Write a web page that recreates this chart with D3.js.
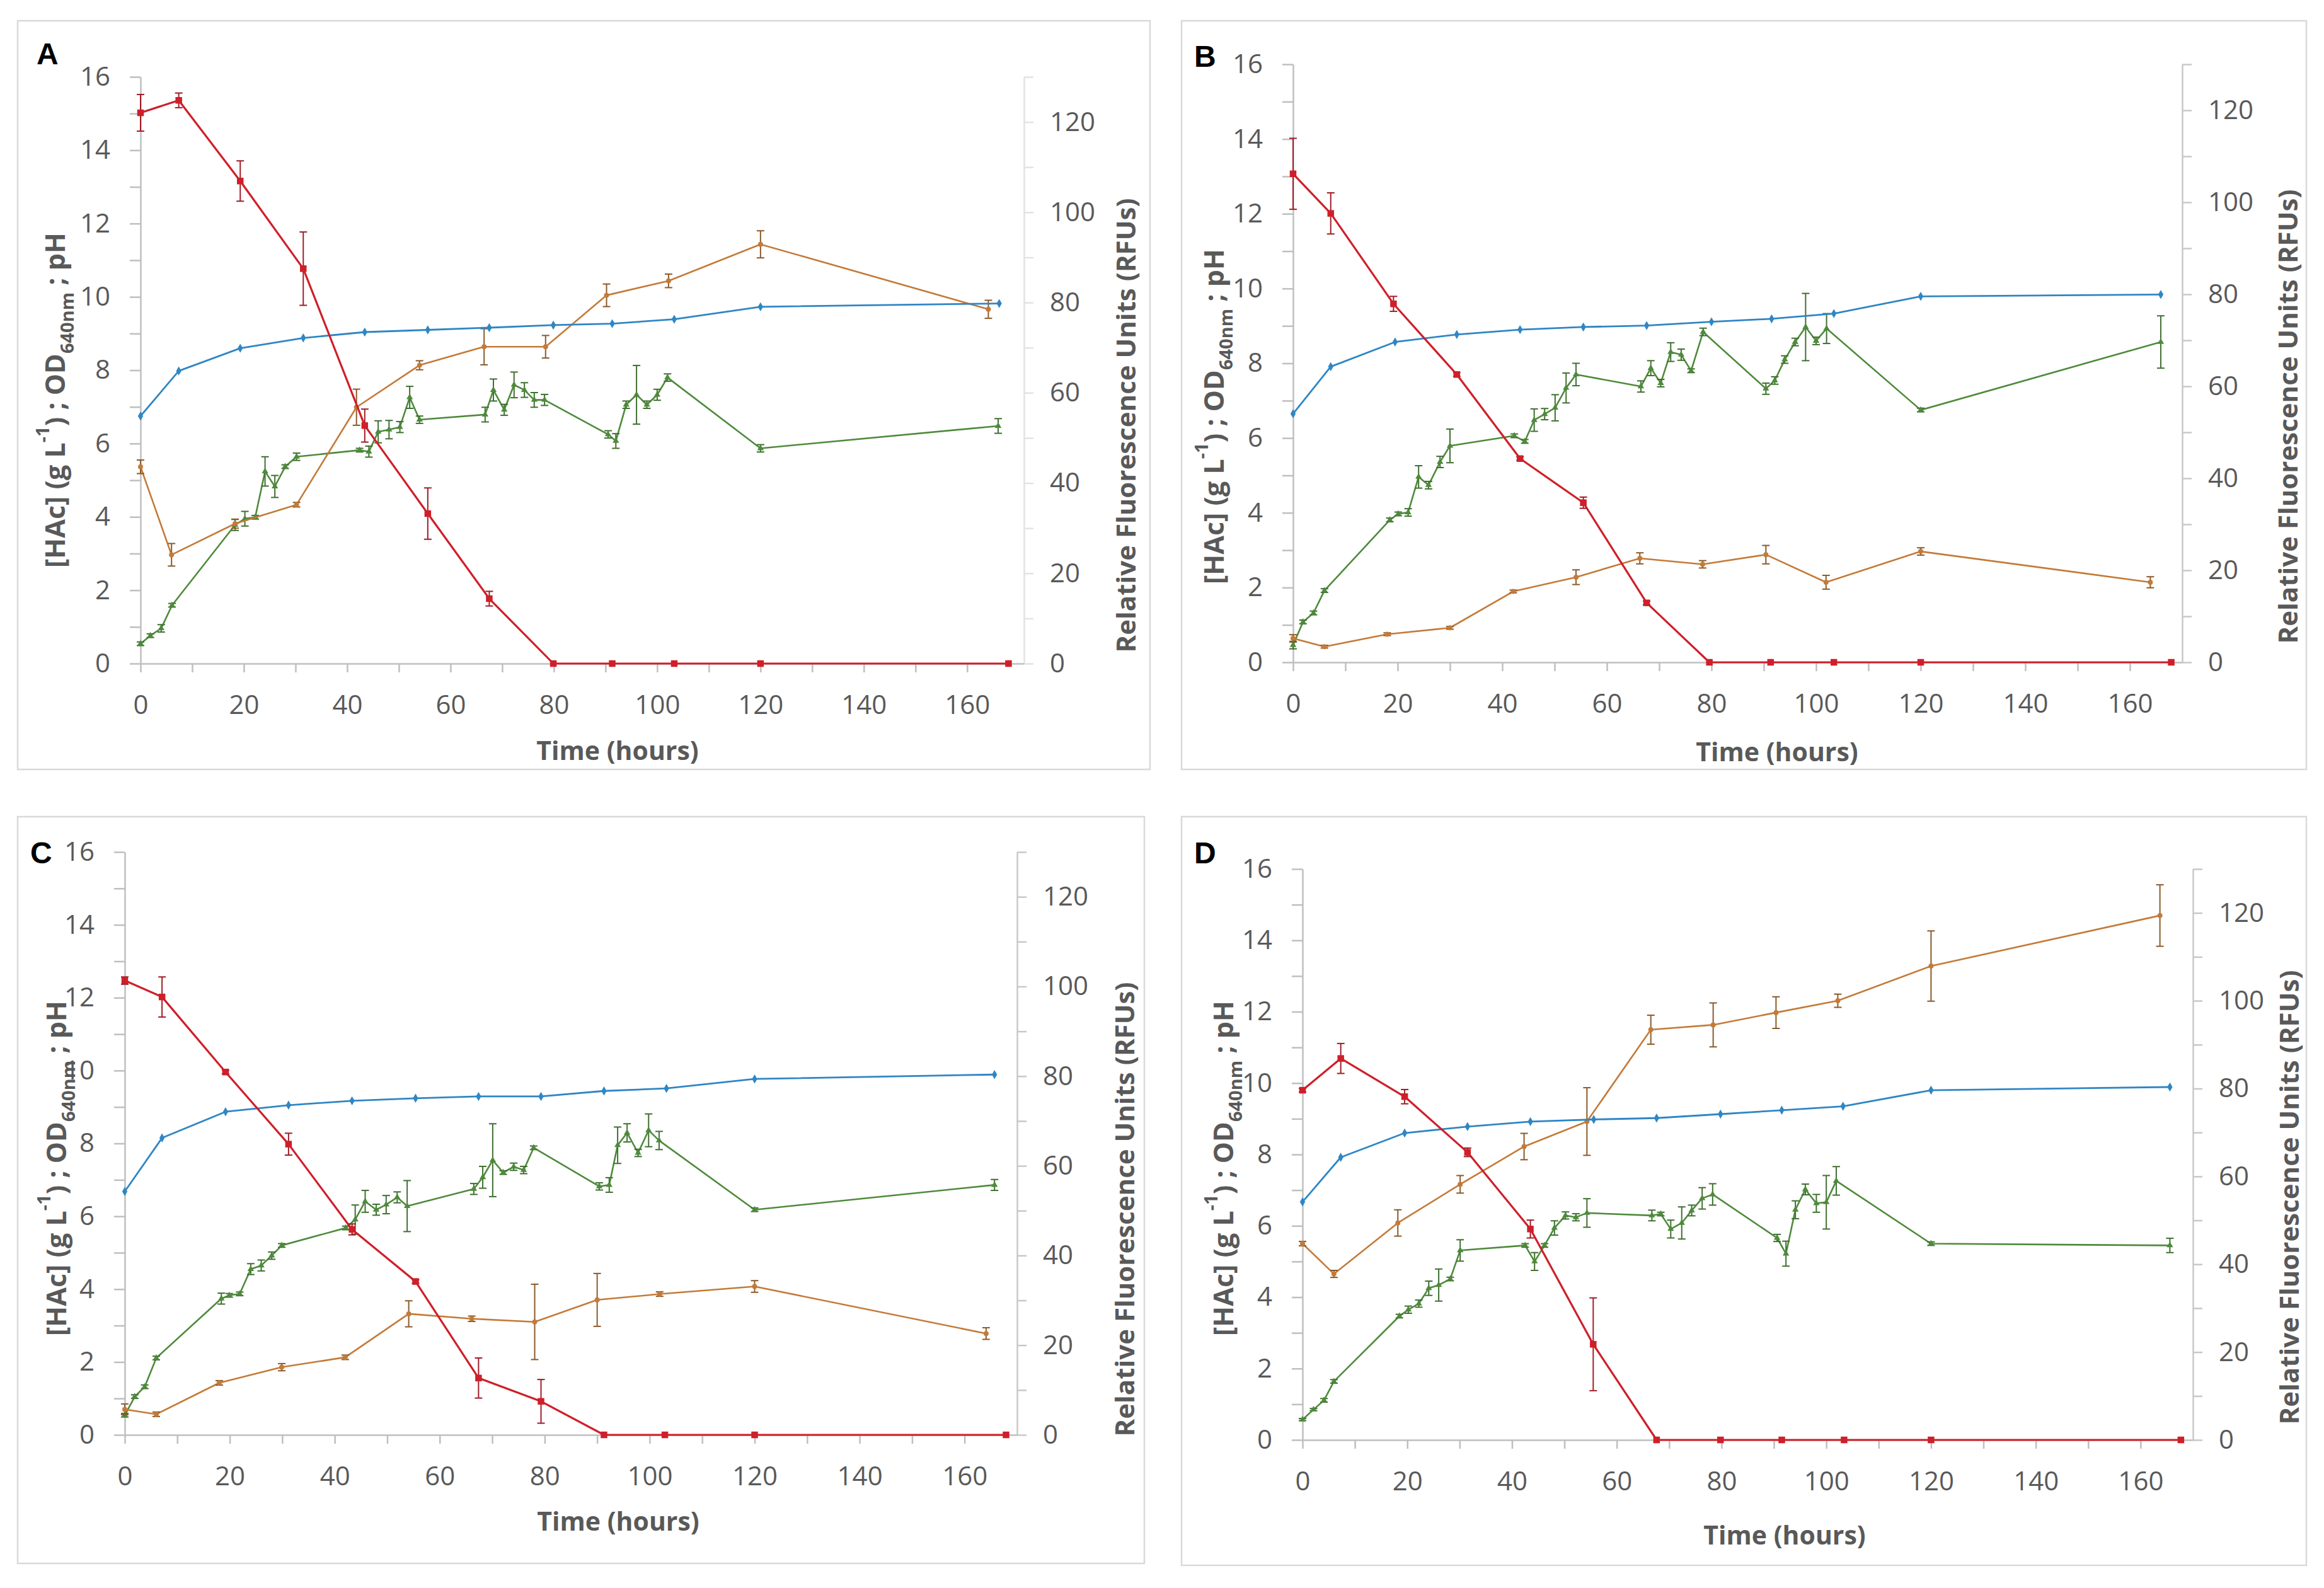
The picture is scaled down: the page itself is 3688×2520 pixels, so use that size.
<!DOCTYPE html>
<html><head><meta charset="utf-8">
<script src="https://cdn.jsdelivr.net/npm/d3@7"></script>
<style>body{margin:0;background:#fff} svg{display:block}</style>
</head><body>
<script>
// ---------------- DATA ----------------
// Panel A
const A_hac_t = [0,7.4,19.3,31.5,43.4,55.6,67.5,79.9,91.3,103.3,120,168];
const A_hac   = [15.02,15.36,13.16,10.77,6.49,4.09,1.77,0,0,0,0,0];
const A_hac_e = [0.5,0.2,0.55,1.0,0.45,0.7,0.2,0,0,0,0,0];
const A_ph_t  = [0,7.4,19.3,31.5,43.4,55.6,67.5,79.9,91.3,103.3,120,166.2];
const A_ph    = [6.75,7.98,8.60,8.88,9.04,9.10,9.16,9.23,9.27,9.39,9.73,9.82];
const A_rfu_t = [0,6.0,18.3,30.2,41.8,54.0,66.5,78.4,90.2,102.2,120,164.1];
const A_rfu   = [43.6,24.1,31.0,35.2,56.8,66.1,70.2,70.2,81.6,84.8,92.9,78.5];
const A_rfu_e = [1.5,2.5,1.0,0.5,4,1.0,4,2.5,2.5,1.5,3,2];
const A_od_t  = [0,1.9,4.0,6.1,18.3,20.2,22.2,24.1,26.0,28.0,30.2,42.4,44.2,46.0,48.1,50.2,52.1,54.0,66.7,68.3,70.4,72.3,74.3,76.2,78.2,90.5,92.0,94.0,96.0,98.0,100,102,120,166];
const A_od    = [0.54,0.76,0.96,1.59,3.78,3.95,3.99,5.24,4.83,5.37,5.64,5.82,5.78,6.32,6.38,6.45,7.26,6.65,6.79,7.46,6.92,7.60,7.46,7.19,7.19,6.25,6.07,7.06,7.33,7.06,7.33,7.80,5.87,6.48];
const A_od_e  = [0.05,0.05,0.1,0.05,0.15,0.2,0.05,0.4,0.3,0.05,0.1,0.05,0.15,0.3,0.25,0.15,0.3,0.1,0.2,0.3,0.15,0.35,0.2,0.2,0.15,0.1,0.2,0.1,0.8,0.1,0.15,0.1,0.1,0.2];
// Panel B
const B_hac_t = [0,7.2,19.2,31.3,43.4,55.5,67.6,79.6,91.3,103.4,120,167.9];
const B_hac   = [13.07,12.01,9.59,7.70,5.45,4.27,1.59,0,0,0,0,0];
const B_hac_e = [0.95,0.55,0.2,0.05,0.05,0.15,0.05,0,0,0,0,0];
const B_ph_t  = [0,7.2,19.5,31.3,43.4,55.5,67.6,80,91.5,103.4,120,165.9];
const B_ph    = [6.65,7.91,8.57,8.77,8.90,8.97,9.01,9.11,9.19,9.33,9.79,9.84];
const B_rfu_t = [0,6.0,18.0,30.0,42.1,54.1,66.3,78.3,90.4,101.9,120,163.9];
const B_rfu   = [5.2,3.4,6.1,7.5,15.4,18.5,22.6,21.3,23.4,17.4,24.1,17.4];
const B_rfu_e = [0.8,0.3,0.3,0.3,0.3,1.6,1.2,0.8,2.0,1.5,0.8,1.2];
const B_od_t  = [0,1.9,3.9,6.0,18.5,20.1,22.0,24.0,25.9,28.1,30.0,42.3,44.3,46.1,48.1,50.1,52.2,54.1,66.5,68.4,70.3,72.2,74.2,76.1,78.4,90.4,92.1,94.0,96.0,98.0,100,102,120,165.9];
const B_od    = [0.46,1.08,1.32,1.92,3.81,3.97,4.01,4.96,4.74,5.36,5.79,6.06,5.91,6.48,6.64,6.81,7.34,7.70,7.38,7.87,7.47,8.30,8.23,7.80,8.84,7.32,7.54,8.10,8.57,8.97,8.60,8.93,6.75,8.57];
const B_od_e  = [0.1,0.05,0.05,0.05,0.05,0.05,0.1,0.3,0.1,0.15,0.45,0.05,0.05,0.3,0.15,0.35,0.4,0.3,0.15,0.2,0.1,0.25,0.15,0.05,0.1,0.15,0.1,0.1,0.1,0.9,0.1,0.4,0.05,0.7];
// Panel C
const C_hac_t = [0,7.1,19.2,31.2,43.3,55.4,67.4,79.3,91.3,102.9,120,167.9];
const C_hac   = [12.47,12.02,9.96,7.98,5.64,4.21,1.56,0.92,0,0,0,0];
const C_hac_e = [0.1,0.55,0.05,0.3,0.15,0.05,0.55,0.6,0,0,0,0];
const C_ph_t  = [0,7.1,19.2,31.2,43.3,55.4,67.4,79.3,91.3,103.2,120,165.7];
const C_ph    = [6.68,8.15,8.87,9.05,9.17,9.24,9.29,9.29,9.44,9.51,9.77,9.89];
const C_rfu_t = [0,6.0,18.0,29.9,42.0,54.1,66.1,78.1,90.0,101.9,120,164.1];
const C_rfu   = [5.7,4.6,11.6,15.1,17.3,27.0,25.9,25.2,30.1,31.4,33.1,22.6];
const C_rfu_e = [1.2,0.5,0.5,0.8,0.5,2.9,0.6,8.4,5.9,0.5,1.3,1.3];
const C_od_t  = [0,1.9,3.8,6.0,18.4,19.9,21.9,24.0,26.0,28.0,29.9,42.1,43.9,45.8,47.9,49.8,51.9,53.8,66.5,68.2,70.1,72.1,74.1,76.0,77.9,90.4,92.3,93.9,95.7,97.8,99.8,101.8,120,165.7];
const C_od    = [0.54,1.05,1.32,2.11,3.74,3.83,3.87,4.55,4.65,4.92,5.20,5.68,5.91,6.41,6.18,6.32,6.52,6.28,6.75,7.07,7.54,7.20,7.36,7.27,7.88,6.82,6.86,7.95,8.29,7.74,8.36,8.08,6.18,6.86];
const C_od_e  = [0.05,0.05,0.05,0.05,0.15,0.05,0.05,0.15,0.15,0.1,0.05,0.05,0.4,0.3,0.15,0.25,0.15,0.7,0.15,0.3,1.0,0.05,0.1,0.1,0.05,0.1,0.2,0.5,0.25,0.1,0.45,0.25,0.05,0.15];
// Panel D
const D_hac_t = [0,7.3,19.5,31.5,43.5,55.5,67.6,79.8,91.5,103.4,120,167.7];
const D_hac   = [9.80,10.69,9.62,8.06,5.91,2.68,0,0,0,0,0,0];
const D_hac_e = [0.05,0.42,0.2,0.12,0.25,1.3,0,0,0,0,0,0];
const D_ph_t  = [0,7.3,19.5,31.5,43.5,55.6,67.6,79.8,91.5,103.2,120,165.6];
const D_ph    = [6.67,7.92,8.60,8.78,8.92,8.98,9.02,9.13,9.24,9.35,9.80,9.89];
const D_rfu_t = [0,6.0,18.2,30.1,42.3,54.3,66.5,78.4,90.4,102.2,120,163.7];
const D_rfu   = [44.7,37.8,49.4,58.2,66.8,72.5,93.4,94.5,97.3,100.0,107.9,119.4];
const D_rfu_e = [0.5,0.8,3.0,2.0,3.0,7.7,3.3,5.0,3.6,1.5,8.0,7.0];
const D_od_t  = [0,2.1,4.1,6.0,18.5,20.2,22.2,24.1,26.0,28.2,30.1,42.5,44.3,46.2,48.1,50.2,52.2,54.3,66.7,68.4,70.3,72.4,74.3,76.3,78.3,90.6,92.3,94.1,96.0,98.1,100,101.9,120,165.6];
const D_od    = [0.57,0.85,1.11,1.64,3.47,3.65,3.82,4.25,4.34,4.51,5.31,5.45,5.00,5.45,5.94,6.29,6.24,6.36,6.29,6.33,5.91,6.08,6.43,6.77,6.88,5.66,5.22,6.45,7.02,6.63,6.66,7.26,5.50,5.45];
const D_od_e  = [0.03,0.03,0.05,0.05,0.05,0.1,0.1,0.2,0.45,0.05,0.3,0.05,0.25,0.05,0.2,0.1,0.1,0.4,0.15,0.05,0.25,0.45,0.15,0.3,0.3,0.1,0.35,0.25,0.15,0.25,0.75,0.4,0.05,0.2];

// tick values
const xTicks = [0,10,20,30,40,50,60,70,80,90,100,110,120,130,140,150,160];
const xLabels = [0,20,40,60,80,100,120,140,160];
const yLeftTicks = d3.range(0,17,1);
const yLeftLabels = [0,2,4,6,8,10,12,14,16];
const yRightTicks = d3.range(0,131,10);
const yRightLabels = [0,20,40,60,80,100,120];
const panelLetters = ['A','B','C','D'];
const xTitle = 'Time (hours)';
const rightTitle = 'Relative Fluorescence Units (RFUs)';

// ---------------- LAYOUT ----------------
const layouts = {
  A:{box:[28,33,1825,1221], L:223, R:1625, xmax:171, T:122, B:1053, letter:[58,102], lt:[86,635], rt:[1785,675], xt:[980,1190]},
  B:{box:[1875,33,3660,1221], L:2052, R:3463, xmax:170, T:102, B:1051, letter:[1895,106], lt:[1925,661], rt:[3629,661], xt:[2820,1192]},
  C:{box:[28,1296,1816,2481], L:198, R:1614, xmax:170, T:1352, B:2277, letter:[48,1370], lt:[88,1854], rt:[1783,1919], xt:[981,2413]},
  D:{box:[1875,1296,3660,2484], L:2067, R:3480, xmax:170, T:1379, B:2285, letter:[1895,1370], lt:[1940,1854], rt:[3631,1900], xt:[2832,2435]}
};
const seriesData = {
  A:{hac:[A_hac_t,A_hac,A_hac_e], ph:[A_ph_t,A_ph,null], rfu:[A_rfu_t,A_rfu,A_rfu_e], od:[A_od_t,A_od,A_od_e]},
  B:{hac:[B_hac_t,B_hac,B_hac_e], ph:[B_ph_t,B_ph,null], rfu:[B_rfu_t,B_rfu,B_rfu_e], od:[B_od_t,B_od,B_od_e]},
  C:{hac:[C_hac_t,C_hac,C_hac_e], ph:[C_ph_t,C_ph,null], rfu:[C_rfu_t,C_rfu,C_rfu_e], od:[C_od_t,C_od,C_od_e]},
  D:{hac:[D_hac_t,D_hac,D_hac_e], ph:[D_ph_t,D_ph,null], rfu:[D_rfu_t,D_rfu,D_rfu_e], od:[D_od_t,D_od,D_od_e]}
};
const styles = {
  od:{color:'#4e8a3b', err:'#3f6f30', sym:d3.symbolTriangle, size:46, lw:2.6, axis:'left'},
  rfu:{color:'#c47a38', err:'#8a5a2a', sym:d3.symbolCircle, size:50, lw:2.6, axis:'right'},
  ph:{color:'#2f86c4', err:'#2f6fa8', sym:d3.symbolDiamond, size:60, lw:2.8, axis:'left'},
  hac:{color:'#cf1f2a', err:'#a01c25', sym:d3.symbolSquare, size:110, lw:3.2, axis:'left'}
};
const drawOrder = ['od','rfu','ph','hac'];

const W=3688, H=2520;
const FONT = "'Open Sans', 'Noto Sans', sans-serif";
const svg = d3.select('body').append('svg').attr('width',W).attr('height',H)
  .style('background','#fff');

panelLetters.forEach(id => {
  const lay = layouts[id];
  const g = svg.append('g');
  g.append('rect').attr('x',lay.box[0]).attr('y',lay.box[1])
    .attr('width',lay.box[2]-lay.box[0]).attr('height',lay.box[3]-lay.box[1])
    .attr('fill','#fff').attr('stroke','#d9d9d9').attr('stroke-width',2.5);

  const x = d3.scaleLinear().domain([0,lay.xmax]).range([lay.L,lay.R]);
  const yL = d3.scaleLinear().domain([0,16]).range([lay.B,lay.T]);
  const yR = d3.scaleLinear().domain([0,130]).range([lay.B,lay.T]);

  const styleAxis = (sel, lineColor) => {
    sel.select('.domain').attr('stroke',lineColor).attr('stroke-width',2.5);
    sel.selectAll('.tick line').attr('stroke',lineColor).attr('stroke-width',2.5);
    sel.selectAll('.tick text').attr('fill','#595959').style('font-size','42px').style('font-family',FONT);
  };

  const gl = g.append('g').attr('transform',`translate(${lay.L},0)`)
    .call(d3.axisLeft(yL).tickValues(yLeftTicks).tickSize(17).tickSizeOuter(0).tickPadding(31)
      .tickFormat(d => yLeftLabels.includes(d) ? d : ''));
  styleAxis(gl,'#bfbfbf');
  const gr = g.append('g').attr('transform',`translate(${lay.R},0)`)
    .call(d3.axisRight(yR).tickValues(yRightTicks).tickSize(15).tickSizeOuter(0).tickPadding(26)
      .tickFormat(d => yRightLabels.includes(d) ? d : ''));
  styleAxis(gr, id==='A' ? '#e3e3e3' : '#c8c8c8');
  const gb = g.append('g').attr('transform',`translate(0,${lay.B})`)
    .call(d3.axisBottom(x).tickValues(xTicks).tickSize(14).tickSizeOuter(0).tickPadding(36)
      .tickFormat(d => xLabels.includes(d) ? d : ''));
  styleAxis(gb,'#bfbfbf');

  drawOrder.forEach(key => {
    const st = styles[key];
    const [ts, vs, es] = seriesData[id][key];
    const yS = st.axis==='left' ? yL : yR;
    const pts = ts.map((t,i)=>({t, v:vs[i], e: es ? es[i] : 0}));
    const sg = g.append('g');
    sg.append('path').datum(pts)
      .attr('d', d3.line().x(d=>x(d.t)).y(d=>yS(d.v)))
      .attr('fill','none').attr('stroke',st.color).attr('stroke-width',st.lw)
      .attr('stroke-linejoin','round');
    const eb = sg.selectAll('g.eb').data(pts.filter(d=>d.e>0)).enter().append('g');
    eb.append('line').attr('x1',d=>x(d.t)).attr('x2',d=>x(d.t))
      .attr('y1',d=>yS(d.v-d.e)).attr('y2',d=>yS(d.v+d.e))
      .attr('stroke',st.err).attr('stroke-width',2);
    [-1,1].forEach(s => {
      eb.append('line').attr('x1',d=>x(d.t)-6).attr('x2',d=>x(d.t)+6)
        .attr('y1',d=>yS(d.v+s*d.e)).attr('y2',d=>yS(d.v+s*d.e))
        .attr('stroke',st.err).attr('stroke-width',2);
    });
    sg.selectAll('path.m').data(pts).enter().append('path')
      .attr('transform',d=>`translate(${x(d.t)},${yS(d.v)})`)
      .attr('d', d3.symbol().type(st.sym).size(st.size))
      .attr('fill',st.color);
  });

  const lt = g.append('text')
    .attr('transform',`translate(${lay.lt[0]},${lay.lt[1]}) rotate(-90)`)
    .attr('text-anchor','middle').attr('dominant-baseline','central')
    .attr('fill','#595959').style('font-family',FONT).style('font-weight','700').style('font-size','43px');
  lt.append('tspan').text('[HAc] (g L');
  lt.append('tspan').text('-1').attr('baseline-shift','super').style('font-size','29px');
  lt.append('tspan').text(') ; OD');
  lt.append('tspan').text('640nm').attr('baseline-shift','sub').style('font-size','29px');
  lt.append('tspan').text(' ; pH');

  g.append('text')
    .attr('transform',`translate(${lay.rt[0]},${lay.rt[1]}) rotate(-90)`)
    .attr('text-anchor','middle').attr('dominant-baseline','central')
    .attr('fill','#595959').style('font-family',FONT).style('font-weight','700').style('font-size','42px')
    .text(rightTitle);

  g.append('text').attr('x',lay.xt[0]).attr('y',lay.xt[1])
    .attr('text-anchor','middle').attr('dominant-baseline','central')
    .attr('fill','#595959').style('font-family',FONT).style('font-weight','700').style('font-size','41px')
    .text(xTitle);

  g.append('text').attr('x',lay.letter[0]).attr('y',lay.letter[1])
    .attr('fill','#000').style('font-family',"'Liberation Sans', Arial, sans-serif")
    .style('font-weight','700').style('font-size','48px').text(id);
});
</script>
</body></html>
